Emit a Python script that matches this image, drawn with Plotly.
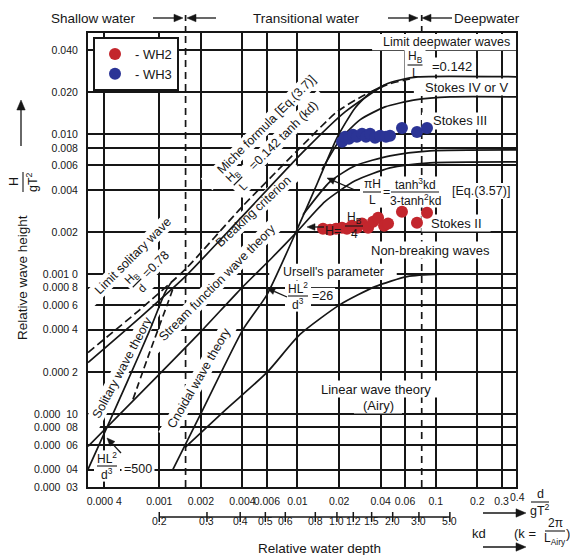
import math
import re
import plotly.graph_objects as go

FONT = "Liberation Sans, Arial, sans-serif"
INK = "#161616"

# ---------------------------------------------------------------------------
# Measured waves: relative depth d/gT^2 and relative height H/gT^2
# ---------------------------------------------------------------------------
wh2_depth = [0.0153, 0.0172, 0.0190, 0.0210, 0.0228, 0.0248, 0.0269, 0.0293,
             0.0324, 0.0352, 0.0383, 0.0423, 0.0452, 0.0570, 0.0732, 0.0865]
wh2_height = [0.00211, 0.00208, 0.00211, 0.00215, 0.00211, 0.00222, 0.00215, 0.00230,
              0.00215, 0.00237, 0.00253, 0.00222, 0.00230, 0.00279, 0.00233, 0.00275]

wh3_depth = [0.0210, 0.0221, 0.0236, 0.0252, 0.0269, 0.0293, 0.0313, 0.0335,
             0.0364, 0.0396, 0.0437, 0.0467, 0.0570, 0.0732, 0.0865]
wh3_height = [0.00884, 0.00960, 0.00929, 0.00992, 0.00960, 0.0101, 0.00960, 0.0101,
              0.00944, 0.00976, 0.00960, 0.00976, 0.0111, 0.0104, 0.0111]

# ---------------------------------------------------------------------------
# Region boundaries (d/gT^2, H/gT^2)
# ---------------------------------------------------------------------------
miche_depth = [0.000305, 0.000725, 0.00154, 0.00397, 0.0101, 0.0193, 0.0308, 0.0467, 0.0652]
miche_height = [0.000275, 0.000558, 0.00108, 0.00303, 0.00775, 0.0145, 0.0192, 0.0230, 0.0249]

breaking_depth = [0.000305, 0.000725, 0.00154, 0.00397, 0.0108, 0.0221, 0.0444, 0.0551, 0.0744, 0.4]
breaking_height = [0.000233, 0.000489, 0.00096, 0.00258, 0.00738, 0.0145, 0.0230, 0.0245, 0.0258, 0.0258]

solitary_depth = [0.000305, 0.000418, 0.000584, 0.000857, 0.00110, 0.001215]
solitary_height = [0.0000401, 0.0000801, 0.000168, 0.000401, 0.000738, 0.000869]

solitary_limit_depth = [0.000645, 0.000857, 0.001156, 0.001256]
solitary_limit_height = [0.000127, 0.000280, 0.000626, 0.000788]

quarter_depth = [0.000305, 0.000978, 0.00197, 0.00397, 0.00654, 0.00992, 0.0158, 0.0261, 0.0467, 0.0909, 0.4]
quarter_height = [0.0000586, 0.000188, 0.000382, 0.000801, 0.00131, 0.00201, 0.00330, 0.00465,
                  0.00576, 0.00626, 0.00636]

ursell_depth = [0.001256, 0.00207, 0.00403, 0.00602, 0.00992, 0.01407, 0.0193, 0.0261, 0.0335, 0.0430]
ursell_height = [0.0000401, 0.0001077, 0.000401, 0.000714, 0.00208, 0.00458, 0.00944, 0.01546,
                 0.0198, 0.0226]

linear_depth = [0.00154, 0.00304, 0.00602, 0.01042, 0.0203, 0.0364, 0.0620, 0.1074, 0.4]
linear_height = [0.0000576, 0.0001077, 0.000198, 0.000370, 0.000605, 0.000814, 0.00096, 0.0010, 0.0010]

stokes2_depth = [0.01096, 0.01718, 0.0261, 0.0467, 0.0909, 0.4]
stokes2_height = [0.00266, 0.00458, 0.00596, 0.00702, 0.00762, 0.00775]

stokes3_depth = [0.01504, 0.0203, 0.0283, 0.0430, 0.0708, 0.127, 0.4]
stokes3_height = [0.00558, 0.00914, 0.0127, 0.01572, 0.01764, 0.01852, 0.01852]

shallow_limit = 0.00155
deep_limit = 0.0792

# ---------------------------------------------------------------------------
# Axis ticks
# ---------------------------------------------------------------------------
NB = "\u00a0"
x_tick_vals = [0.0004, 0.001, 0.002, 0.004, 0.006, 0.01, 0.02, 0.04, 0.06, 0.1, 0.2, 0.3]
x_tick_text = ["0.000" + NB + "4", "0.001", "0.002", "0.004", "0.006", "0.01", "0.02",
               "0.04", "0.06", "0.1", "0.2", "0.3"]
y_tick_vals = [0.04, 0.02, 0.01, 0.008, 0.006, 0.004, 0.002, 0.001, 0.0008, 0.0006,
               0.0004, 0.0002, 0.0001, 0.00008, 0.00006, 0.00004, 0.00003]
y_tick_text = ["0.040", "0.020", "0.010", "0.008", "0.006", "0.004", "0.002",
               "0.001" + NB + "0", "0.000" + NB + "8", "0.000" + NB + "6", "0.000" + NB + "4",
               "0.000" + NB + "2", "0.000" + NB * 2 + "10", "0.000" + NB * 2 + "08",
               "0.000" + NB * 2 + "06", "0.000" + NB * 2 + "04", "0.000" + NB * 2 + "03"]
kd_values = [0.2, 0.3, 0.4, 0.5, 0.6, 0.8, 1.0, 1.2, 1.5, 2.0, 3.0, 5.0]
kd_text = ["0.2", "0.3", "0.4", "0.5", "0.6", "0.8", "1.0", "1.2", "1.5", "2.0", "3.0", "5.0"]
# where each kd value sits on the d/gT^2 axis (linear dispersion relation)
kd_depth = [k * math.tanh(k) / (4 * math.pi ** 2) for k in kd_values]

# ---------------------------------------------------------------------------
# Frame geometry (pixels) and helpers for the labels
# ---------------------------------------------------------------------------
W, H = 570, 555
LEFT, RIGHT, TOP, BOTTOM = 88, 516, 33, 487
X_RANGE = [math.log10(0.000305), math.log10(0.381)]
Y_RANGE = [math.log10(0.00003), math.log10(0.0531)]


def P(xp, yp):
    return (xp - LEFT) / (RIGHT - LEFT), (BOTTOM - yp) / (BOTTOM - TOP)


def D(xp, yp):
    fx, fy = P(xp, yp)
    return (10 ** (X_RANGE[0] + fx * (X_RANGE[1] - X_RANGE[0])),
            10 ** (Y_RANGE[0] + fy * (Y_RANGE[1] - Y_RANGE[0])))


annotations = []
shapes = []

# shallow / deep water limits: the part inside the frame sits with the grid,
# so the label patches below interrupt it; the part above the frame is drawn on top
for lim in (shallow_limit, deep_limit):
    shapes.append(dict(type="line", xref="x", yref="y", layer="between",
                       x0=lim, x1=lim, y0=10 ** Y_RANGE[0], y1=10 ** Y_RANGE[1],
                       line=dict(color=INK, width=1.7, dash="7px,5px")))
    shapes.append(dict(type="line", xref="x", yref="paper", layer="above",
                       x0=lim, x1=lim, y0=1, y1=P(0, 15)[1],
                       line=dict(color=INK, width=1.7, dash="7px,5px")))


def clear(xp, yp, w, h, angle=0):
    """White patch between the grid and the curves, so grid lines stop at a label."""
    th = math.radians(angle)
    ux, uy = math.cos(th), math.sin(th)
    nx, ny = -uy, ux
    pts = []
    for a, b in ((-1, -1), (1, -1), (1, 1), (-1, 1)):
        pts.append(D(xp + a * w / 2 * ux + b * h / 2 * nx, yp + a * w / 2 * uy + b * h / 2 * ny))
    path = "M " + " L ".join(f"{x:.7g},{y:.7g}" for x, y in pts) + " Z"
    shapes.append(dict(type="path", path=path, xref="x", yref="y", layer="between",
                       fillcolor="white", line=dict(width=0)))


def text_width(s, size):
    plain = re.sub(r"<sub>(.*?)</sub>|<sup>(.*?)</sup>",
                   lambda m: "x" * int(0.7 * len(m.group(1) or m.group(2)) + 0.5), s)
    plain = re.sub(r"<[^>]+>", "", plain)
    return len(plain) * size * 0.54


def text(s, xp, yp, size=13, angle=0, bg=False, xanchor="center"):
    if bg:
        clear(xp, yp, text_width(s, size) + 6, size * 1.3, angle)
    x, y = P(xp, yp)
    annotations.append(dict(
        text=s, x=x, y=y, xref="paper", yref="paper", showarrow=False,
        textangle=angle, xanchor=xanchor, yanchor="middle",
        font=dict(size=size, color=INK, family=FONT)))


def seg(x0, y0, x1, y1, w=1.2, dash=None):
    a, b = P(x0, y0), P(x1, y1)
    shapes.append(dict(type="line", xref="paper", yref="paper", layer="above",
                       x0=a[0], y0=a[1], x1=b[0], y1=b[1],
                       line=dict(color=INK, width=w, dash=dash)))


def frac(num, den, xp, yp, w, size=12, angle=0, bg=False):
    th = math.radians(angle)
    ux, uy = math.cos(th), math.sin(th)
    nx, ny = uy, -ux
    if bg:
        wid = max(text_width(num, size), text_width(den, size), w) + 6
        clear(xp, yp, wid, size * 2.6, angle)
    off = size * 0.64
    text(num, xp + nx * off, yp + ny * off, size, angle)
    text(den, xp - nx * off, yp - ny * off, size, angle)
    seg(xp - ux * w / 2, yp - uy * w / 2, xp + ux * w / 2, yp + uy * w / 2, w=1.1)


def arrow(tx, ty, sx, sy, head=7.0):
    """Straight arrow from (sx, sy) to a filled head at (tx, ty)."""
    dx, dy = tx - sx, ty - sy
    n = math.hypot(dx, dy)
    ux, uy = dx / n, dy / n
    bx, by = tx - ux * head, ty - uy * head
    seg(sx, sy, bx, by, w=1.3)
    hw = head * 0.42
    pts = [P(tx, ty), P(bx - uy * hw, by + ux * hw), P(bx + uy * hw, by - ux * hw)]
    path = "M " + " L ".join(f"{x:.5f},{y:.5f}" for x, y in pts) + " Z"
    shapes.append(dict(type="path", path=path, xref="paper", yref="paper", layer="above",
                       fillcolor=INK, line=dict(color=INK, width=0.5)))


# ---------------------------------------------------------------------------
# Figure
# ---------------------------------------------------------------------------
fig = go.Figure()


def curve(xs, ys, dash=None, width=1.7):
    fig.add_trace(go.Scatter(
        x=xs, y=ys, mode="lines", showlegend=False, hoverinfo="skip",
        line=dict(color=INK, width=width, dash=dash, shape="spline", smoothing=0.6)))


curve(miche_depth, miche_height, dash="8px,4px")
curve(breaking_depth, breaking_height)
curve(solitary_depth, solitary_height)
curve(solitary_limit_depth, solitary_limit_height, dash="7px,4px")
curve(quarter_depth, quarter_height)
curve(ursell_depth, ursell_height)
curve(linear_depth, linear_height)
curve(stokes2_depth, stokes2_height)
curve(stokes3_depth, stokes3_height)

fig.add_trace(go.Scatter(x=wh2_depth, y=wh2_height, mode="markers", name="- WH2",
                         marker=dict(size=12, color="#c3262d")))
fig.add_trace(go.Scatter(x=wh3_depth, y=wh3_height, mode="markers", name="- WH3",
                         marker=dict(size=12, color="#2b3496")))

# header
text("Shallow water", 93, 18, 13.5)
text("Transitional water", 306, 18, 13.5)
text("Deepwater", 487, 18, 13.5)
arrow(183, 18, 153, 18, 9)
arrow(187, 18, 216, 18, 9)
arrow(418, 18, 388, 18, 9)
arrow(422, 18, 452, 18, 9)

# region labels
text("Limit deepwater waves", 446, 42, 12.5, bg=True)
frac("H<sub>B</sub>", "L", 415, 65, 15, 12, bg=True)
text("=0.142", 452, 66, 13, bg=True)
text("Stokes IV or V", 466, 87, 13, bg=True)
text("Stokes III", 460, 121, 13, bg=True)
text("Stokes II", 456, 223, 13, bg=True)
text("Non-breaking waves", 430, 250, 13, bg=True)
text("Linear wave theory", 376, 389, 13, bg=True)
text("(Airy)", 378, 405, 13, bg=True)
text("Ursell's parameter", 333, 272, 12.5, bg=True)
frac("HL<sup>2</sup>", "d<sup>3</sup>", 298, 296, 20, 12, bg=True)
text("=26", 322, 296, 12.5, bg=True)
arrow(267, 288, 287, 297, 8)
frac("HL<sup>2</sup>", "d<sup>3</sup>", 107, 466, 20, 12, bg=True)
text("=500", 138, 469, 12.5, bg=True)
arrow(107, 438, 121, 453, 8)
text("H=", 333, 231, 12.5)
frac("H<sub>B</sub>", "4", 354, 226, 18, 12)
arrow(307, 227, 324, 227, 8)
frac("\u03c0H", "L", 372, 192, 18, 12, bg=True)
text("=", 386, 192, 12.5, bg=True)
frac("tanh<sup>3</sup>kd", "3-tanh<sup>2</sup>kd", 415, 192, 48, 12, bg=True)
text("[Eq.(3.57)]", 481, 191, 12.5, bg=True)
arrow(327, 178, 355, 190, 8)

# labels along the curves
text("Miche formula [Eq.(3.7)]", 266, 125, 12.5, -45, bg=True)
frac("H<sub>B</sub>", "L", 238, 181, 12, 11.5, -45, bg=True)
text("=0.142 tanh (kd)", 283, 136, 12.5, -45, bg=True)
text("Breaking criterion", 253, 212, 12.5, -43, bg=True)
text("Limit solitary wave", 133, 256, 12.5, -45, bg=True)
frac("H<sub>B</sub>", "d", 137, 283, 12, 11.5, -45, bg=True)
text("=0.78", 156, 264, 12.5, -45, bg=True)
text("Stream function wave theory", 217, 283, 12.5, -45, bg=True)
text("Solitary wave theory", 122, 368, 12.5, -62, bg=True)
text("Cnoidal wave theory", 199, 378, 12.5, -60, bg=True)

# y-axis title
text("Relative wave height", 22, 278, 13.5, -90)
text("H", 14, 182, 12.5, -90)
text("gT<sup>2</sup>", 32, 182, 12.5, -90)
seg(23, 192, 23, 172, w=1.1)
arrow(21, 100, 21, 146, 10)

# x-axis extras
text("0.4", 517, 497, 10.5)
frac("d", "gT<sup>2</sup>", 540, 502, 18, 12.5)
arrow(526, 513, 483, 513, 10)
text("kd", 479, 533, 13)
text("(k =", 525, 533, 13)
frac("2\u03c0", "L<sub>Airy</sub>", 555, 531, 20, 12)
text(")", 568, 533, 13)
arrow(526, 547, 483, 547, 10)
text("Relative water depth", 319, 548, 13.5)

# kd scale under the d/gT^2 axis
kd_y = P(0, 517)[1]
shapes.append(dict(type="line", xref="x", yref="paper", x0=kd_depth[0], x1=kd_depth[-1],
                   y0=kd_y, y1=kd_y, line=dict(color=INK, width=1.5)))
for d, lab in zip(kd_depth, kd_text):
    shapes.append(dict(type="line", xref="x", yref="paper", x0=d, x1=d,
                       y0=P(0, 512)[1], y1=P(0, 522)[1], line=dict(color=INK, width=1.5)))
    annotations.append(dict(text=lab, x=math.log10(d), y=P(0, 529)[1], xref="x", yref="paper",
                            showarrow=False, font=dict(size=10.5, color=INK, family=FONT)))

axis_common = dict(
    type="log", showgrid=True, gridcolor=INK, gridwidth=1.6, zeroline=False,
    showline=True, linecolor=INK, linewidth=2, mirror=True, ticks="", tickangle=0,
    tickfont=dict(size=10.5, color=INK, family=FONT))

fig.update_layout(
    width=W, height=H,
    margin=dict(l=LEFT, r=W - RIGHT, t=TOP, b=H - BOTTOM),
    paper_bgcolor="white", plot_bgcolor="white",
    font=dict(family=FONT, color=INK),
    xaxis=dict(range=X_RANGE, tickvals=x_tick_vals,
               ticktext=x_tick_text, ticklabelstandoff=3, **axis_common),
    yaxis=dict(range=Y_RANGE, tickvals=y_tick_vals,
               ticktext=y_tick_text, ticklabelstandoff=6, **axis_common),
    showlegend=True,
    legend=dict(x=P(93, 0)[0], y=P(0, 37)[1], xanchor="left", yanchor="top",
                bgcolor="white", bordercolor=INK, borderwidth=2,
                font=dict(size=13, color=INK, family=FONT), itemwidth=30,
                tracegroupgap=0),
    annotations=annotations,
    shapes=shapes,
)

fig.write_html("out.html")
